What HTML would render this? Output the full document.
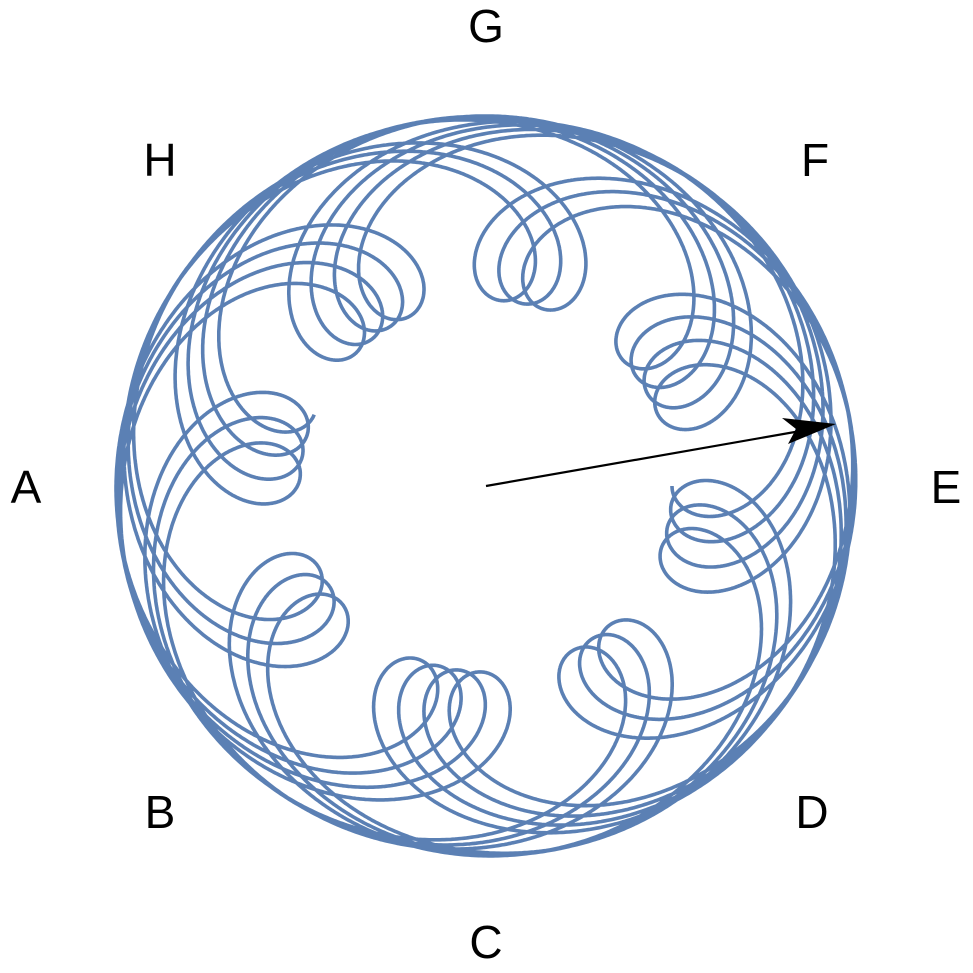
<!DOCTYPE html>
<html><head><meta charset="utf-8"><style>
html,body{margin:0;padding:0;background:#fff;}
svg{display:block}
text{font-family:"Liberation Sans",sans-serif;font-size:46px;fill:#000;}
</style></head><body>
<svg id="s" width="973" height="973" viewBox="0 0 973 973">
<path id="p" fill="none" stroke="#5b80b4" stroke-width="3.6" stroke-linejoin="round"/>
<line x1="486" y1="486" x2="812" y2="429" stroke="#000" stroke-width="2.2"/>
<polygon points="836,424 788,444 796,429 782,418" fill="#000"/>
<text x="486" y="42" text-anchor="middle">G</text>
<text x="160" y="176" text-anchor="middle">H</text>
<text x="815" y="176" text-anchor="middle">F</text>
<text x="26" y="503" text-anchor="middle">A</text>
<text x="946" y="503" text-anchor="middle">E</text>
<text x="160" y="828" text-anchor="middle">B</text>
<text x="812" y="828" text-anchor="middle">D</text>
<text x="486" y="958" text-anchor="middle">C</text>
</svg>
<script>
(function(){
var cx=486,cy=486,a=278,br=92,bt=135,k=8/3+0.016,L=28,T=L*2*Math.PI/k,N=20000,d="";
for(var i=0;i<=N;i++){var t=T*i/N;
var r=a-br*Math.cos(k*t), s=-bt*Math.sin(k*t);
var c=Math.cos(t),sn=Math.sin(t);
var x=cx+r*c-s*sn;
var y=cy-(r*sn+s*c);
d+=(i?"L":"M")+x.toFixed(1)+","+y.toFixed(1);}
document.getElementById("p").setAttribute("d",d);
})();
</script>
</body></html>
